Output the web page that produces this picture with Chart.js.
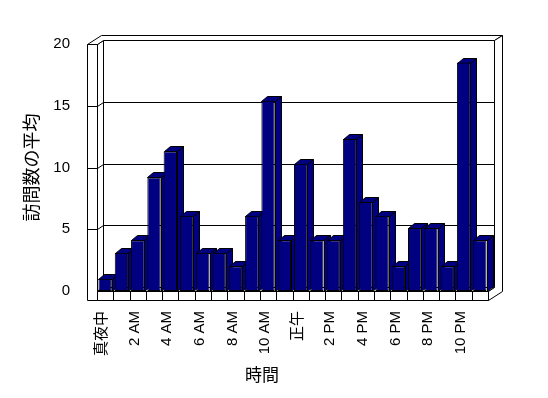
<!DOCTYPE html>
<html>
<head>
<meta charset="utf-8">
<script src="https://cdn.jsdelivr.net/npm/chart.js@4/dist/chart.umd.min.js"></script>
<style>
  html, body { margin: 0; padding: 0; background: #fff; }
  canvas { display: block; }
</style>
</head>
<body>
<canvas id="chart" width="548" height="398"></canvas>
<script>
const hours = [
  '真夜中', '1 AM', '2 AM', '3 AM', '4 AM', '5 AM', '6 AM', '7 AM', '8 AM', '9 AM', '10 AM', '11 AM',
  '正午', '1 PM', '2 PM', '3 PM', '4 PM', '5 PM', '6 PM', '7 PM', '8 PM', '9 PM', '10 PM', '11 PM'
];
const avgVisits = [1, 3.1, 4.1, 9.2, 11.3, 6.1, 3.1, 3.1, 2, 6.1, 15.4, 4.1,
                   10.3, 4.1, 4.1, 12.3, 7.2, 6.1, 2, 5.1, 5.1, 2, 18.5, 4.1];
const yTicks = [0, 5, 10, 15, 20];
const xTitle = '時間';
const yTitle = '訪問数の平均';

const navy = '#000080';
const tickFont = { family: '"Liberation Sans", "Noto Sans CJK JP", sans-serif', size: 15 };
const titleFont = { family: '"Noto Sans CJK JP", sans-serif', size: 17, weight: 'normal' };

// depth offsets of the fake 3d box
const wallDepth = [6, -4];
const backDepth = [14, -9];
const barDepth = [6, -5];
const wallThick = 10;
const floorThick = 9;

function px(v) { return Math.round(v) + 0.5; }

function shape(ctx, pts, fill) {
  ctx.beginPath();
  pts.forEach(([a, b], i) => i ? ctx.lineTo(px(a), px(b)) : ctx.moveTo(px(a), px(b)));
  ctx.closePath();
  ctx.fillStyle = fill;
  ctx.fill();
  ctx.stroke();
}

function line(ctx, x1, y1, x2, y2) {
  ctx.beginPath();
  ctx.moveTo(px(x1), px(y1));
  ctx.lineTo(px(x2), px(y2));
  ctx.stroke();
}

const box3d = {
  id: 'box3d',
  beforeDatasetsDraw(chart) {
    const { ctx, chartArea, scales } = chart;
    const L = chartArea.left, R = chartArea.right, T = chartArea.top, B = chartArea.bottom;
    const [wx, wy] = wallDepth;
    const [bx, by] = backDepth;
    ctx.save();
    ctx.strokeStyle = '#000';
    ctx.lineWidth = 1;

    // back wall, side wall, floor (inner faces)
    shape(ctx, [[L + wx, T + wy], [R + wx, T + wy], [R + wx, B + wy], [L + wx, B + wy]], '#fff');
    shape(ctx, [[L, T], [L + wx, T + wy], [L + wx, B + wy], [L, B]], '#fff');
    shape(ctx, [[L, B], [L + wx, B + wy], [R + wx, B + wy], [R, B]], '#fff');

    yTicks.slice(1, -1).forEach(v => {
      const py = scales.y.getPixelForValue(v);
      line(ctx, L, py, L + wx, py + wy);
      line(ctx, L + wx, py + wy, R + wx, py + wy);
    });

    // wall edges
    shape(ctx, [[L - wallThick, T], [L - wallThick + bx, T + by], [R + bx, T + by],
                [R + wx, T + wy], [L + wx, T + wy], [L, T]], '#fff');
    shape(ctx, [[R + wx, T + wy], [R + bx, T + by], [R + bx, B], [R, B + floorThick],
                [R, B], [R + wx, B + wy]], '#fff');
    shape(ctx, [[L - wallThick, T], [L, T], [L, B + floorThick], [L - wallThick, B + floorThick]], '#fff');
    shape(ctx, [[L, B], [R, B], [R, B + floorThick], [L, B + floorThick]], '#fff');

    yTicks.slice(1, -1).forEach(v => {
      const py = scales.y.getPixelForValue(v);
      line(ctx, L - wallThick, py, L, py);
    });
    for (let i = 1; i < hours.length; i++) {
      const cx = (scales.x.getPixelForValue(i - 1) + scales.x.getPixelForValue(i)) / 2;
      line(ctx, cx, B, cx, B + floorThick);
    }

    // bar sides and tops, fronts are drawn by chart.js on top
    const [dx, dy] = barDepth;
    chart.getDatasetMeta(0).data.forEach(bar => {
      const { x, y, base, width } = bar.getProps(['x', 'y', 'base', 'width'], true);
      const x1 = x - width / 2, x2 = x + width / 2;
      shape(ctx, [[x2, y], [x2 + dx, y + dy], [x2 + dx, base + dy], [x2, base]], navy);
      shape(ctx, [[x1, y], [x1 + dx, y + dy], [x2 + dx, y + dy], [x2, y]], navy);
    });
    ctx.restore();
  }
};

new Chart('chart', {
  type: 'bar',
  data: {
    labels: hours,
    datasets: [{
      data: avgVisits,
      backgroundColor: navy,
      borderColor: '#000',
      borderWidth: 1,
      borderSkipped: false,
      categoryPercentage: 1,
      barPercentage: 0.82
    }]
  },
  plugins: [box3d],
  options: {
    responsive: false,
    animation: false,
    events: [],
    layout: { padding: { left: 0, right: 24, top: 44, bottom: 0 } },
    plugins: {
      legend: { display: false },
      tooltip: { enabled: false },
      title: {
        display: true,
        text: xTitle,
        position: 'bottom',
        color: '#000',
        font: titleFont,
        padding: { top: 0, bottom: 13 }
      }
    },
    scales: {
      x: {
        grid: { display: false, drawTicks: false },
        border: { display: false },
        ticks: {
          autoSkip: false,
          minRotation: 90,
          maxRotation: 90,
          padding: 20,
          labelOffset: -3,
          color: '#000',
          font: tickFont,
          callback: (v, i) => i % 2 ? '' : hours[i]
        },
        afterFit: s => { s.height = 73.6; }
      },
      y: {
        min: 0,
        max: 20,
        afterBuildTicks: s => { s.ticks = yTicks.map(v => ({ value: v })); },
        grid: { display: false, drawTicks: false },
        border: { display: false },
        ticks: { padding: 27, color: '#000', font: tickFont },
        title: {
          display: true,
          text: yTitle,
          color: '#000',
          font: { family: titleFont.family, size: 18, weight: 'normal' },
          padding: { top: 20, bottom: 0 }
        },
        afterFit: s => { s.width = 97; }
      },
      y2: {
        type: 'linear',
        position: 'right',
        grid: { display: false },
        border: { display: false },
        ticks: { display: false },
        afterFit: s => { s.width = 36; }
      }
    }
  }
});
</script>
</body>
</html>
